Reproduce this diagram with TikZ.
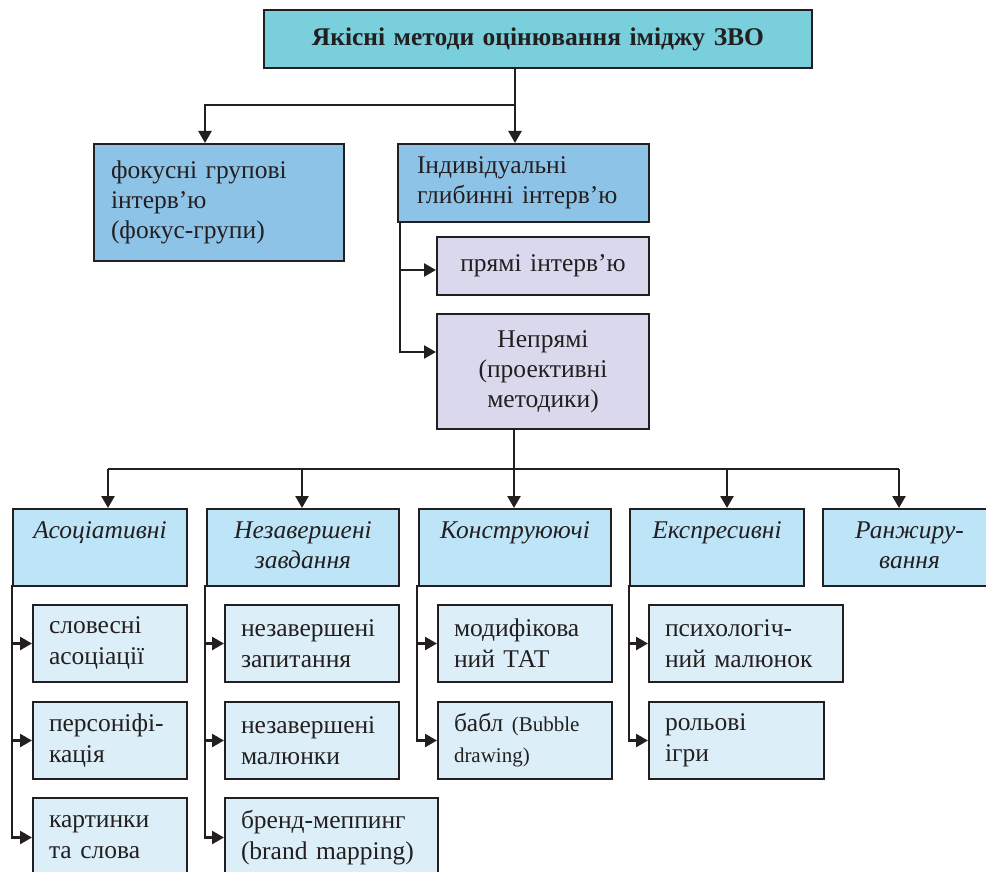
\documentclass[tikz,border=0pt]{standalone}
\usepackage{fontspec}
\setmainfont{Liberation Serif}
\usetikzlibrary{arrows.meta}
\definecolor{lc}{HTML}{231F20}
\definecolor{cTop}{HTML}{79CFDB}
\definecolor{cBlue}{HTML}{8EC3E8}
\definecolor{cLav}{HTML}{D9D8ED}
\definecolor{cCat}{HTML}{BDE5F7}
\definecolor{cSub}{HTML}{DCEFF8}
\tikzset{
  bx/.style={draw=lc, line width=2pt, anchor=north west, inner ysep=0pt,
    font=\fontsize{25.5pt}{30pt}\selectfont, text=lc},
  topbox/.style={bx, fill=cTop, inner xsep=10pt, align=center,
    font=\fontsize{25.5pt}{30pt}\selectfont\bfseries},
  lvbox/.style={bx, fill=cBlue, inner xsep=17pt, align=left},
  lavbox/.style={bx, fill=cLav, inner xsep=5pt, align=center},
  catbox/.style={bx, fill=cCat, inner xsep=5pt, align=center,
    font=\fontsize{25.5pt}{30pt}\selectfont\itshape, minimum height=77pt},
  subbox/.style={bx, fill=cSub, inner xsep=16pt, align=left, minimum height=77pt,
    font=\fontsize{25.5pt}{31pt}\selectfont},
  conn/.style={draw=lc, line width=2.5pt},
  arr/.style={conn, -{Triangle[length=12pt,width=13pt]}}
}
\begin{document}
\begin{tikzpicture}[x=1pt,y=-1pt]
\clip (0,0) rectangle (986,872);
\fill[white] (0,0) rectangle (986,872);
% level 0
\node[topbox, text width=528pt, minimum height=58pt] (top) at (263,9) {Якісні методи оцінювання іміджу ЗВО};
% level 1
\node[lvbox, text width=216pt, minimum height=117pt] (focus) at (93,143) {фокусні групові\\інтерв’ю\\(фокус-групи)};
\node[lvbox, inner xsep=19pt, text width=213pt, minimum height=78pt] (indiv) at (397,143) {\strut Індивідуальні\\глибинні інтерв’ю\strut};
\node[lavbox, text width=202pt, minimum height=58pt] (pryami) at (436,236) {прямі інтерв’ю};
\node[lavbox, text width=202pt, minimum height=115pt] (nepr) at (436,313) {Непрямі\\(проективні\\методики)};
% categories
\node[catbox, text width=164pt] (assoc) at (12,508) {\strut Асоціативні\\\strut};
\node[catbox, text width=182pt] (nezav) at (206,508) {\strut Незавершені\\завдання\strut};
\node[catbox, text width=182pt] (konstr) at (418,508) {\strut Конструюючі\\\strut};
\node[catbox, text width=164pt] (ekspr) at (629,508) {\strut Експресивні\\\strut};
\node[catbox, text width=163pt] (ranzh) at (822,508) {\strut Ранжиру-\\вання\strut};
% sub boxes
\node[subbox, text width=122pt] (s11) at (32,604) {словесні\\асоціації};
\node[subbox, text width=122pt] (s12) at (32,701) {персоніфі-\\кація};
\node[subbox, text width=122pt, minimum height=79pt] (s13) at (32,797) {картинки\\та слова};
\node[subbox, text width=142pt] (s21) at (224,604) {незавершені\\запитання};
\node[subbox, text width=142pt] (s22) at (224,701) {незавершені\\малюнки};
\node[subbox, text width=181pt, minimum height=79pt] (s23) at (224,797) {бренд-меппинг\\(brand mapping)};
\node[subbox, text width=142pt] (s31) at (437,604) {модифікова\\ний ТАТ};
\node[subbox, text width=142pt] (s32) at (437,701) {бабл {\fontsize{21pt}{26pt}\selectfont(Bubble\\drawing)}};
\node[subbox, text width=162pt] (s41) at (648,604) {психологіч-\\ний малюнок};
\node[subbox, text width=143pt] (s42) at (648,701) {рольові\\ігри};
% connectors level 0 -> 1
\coordinate (j0) at (515,105);
\draw[conn] (top.south -| j0) -- (j0);
\draw[arr] (j0) -- (j0 |- indiv.north);
\draw[arr] (j0) -| (focus.north -| 205,0);
% indiv branch
\coordinate (j1) at (400,221);
\draw[arr] (j1) |- (pryami.west |- 0,270);
\draw[arr] (j1) |- (nepr.west |- 0,352);
% nepr -> categories
\coordinate (j2) at (514,469);
\coordinate (h1) at (108,469);
\coordinate (h5) at (899,469);
\draw[conn] (nepr.south -| j2) -- (j2);
\draw[conn] (h1) -- (h5);
\draw[arr] (h1) -- (assoc.north -| h1);
\draw[arr] (302,469) -- (nezav.north -| 302,0);
\draw[arr] (j2) -- (konstr.north -| j2);
\draw[arr] (727,469) -- (ekspr.north -| 727,0);
\draw[arr] (h5) -- (ranzh.north -| h5);
% categories -> subs
\coordinate (c1) at (12,585);
\coordinate (c2) at (205,585);
\coordinate (c3) at (417,585);
\coordinate (c4) at (629,585);
\draw[arr] (c1) |- (s11.west);
\draw[arr] (c1) |- (s12.west);
\draw[arr] (c1) |- (s13.west);
\draw[arr] (c2) |- (s21.west);
\draw[arr] (c2) |- (s22.west);
\draw[arr] (c2) |- (s23.west);
\draw[arr] (c3) |- (s31.west);
\draw[arr] (c3) |- (s32.west);
\draw[arr] (c4) |- (s41.west);
\draw[arr] (c4) |- (s42.west);
\end{tikzpicture}
\end{document}
